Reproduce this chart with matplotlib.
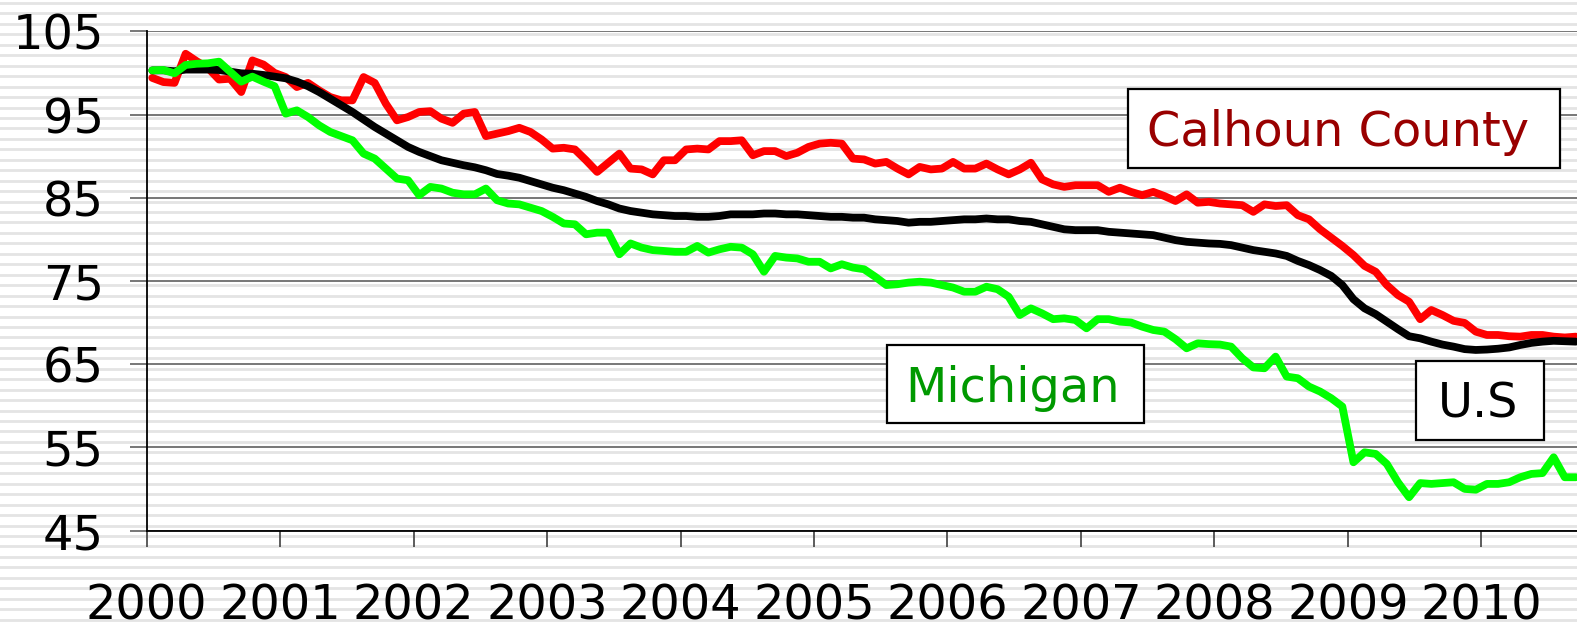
import matplotlib
matplotlib.use("Agg")
import matplotlib.pyplot as plt
from matplotlib.patches import Rectangle
import numpy as np

# monthly index values, Jan 2000 = first point
calhoun = [99.4, 98.9, 98.8, 102.3, 101.4, 100.6, 99.2, 99.3, 97.7, 101.5, 101.0, 100.0,
           99.5, 98.3, 98.8, 97.9, 97.1, 96.7, 96.7, 99.5, 98.8, 96.3, 94.3, 94.7,
           95.3, 95.4, 94.5, 94.0, 95.1, 95.3, 92.4, 92.7, 93.0,
           93.4, 92.9, 92.0, 90.9, 91.0, 90.8, 89.5, 88.1, 89.2, 90.3, 88.5, 88.4,
           87.8, 89.5, 89.5, 90.8, 90.9, 90.8, 91.8, 91.8, 91.9, 90.1, 90.6, 90.6,
           90.0, 90.4, 91.1, 91.5, 91.6, 91.5, 89.7, 89.6,
           89.1, 89.3, 88.5, 87.8, 88.7, 88.4, 88.5, 89.3, 88.5, 88.5, 89.1, 88.4,
           87.8, 88.4, 89.2, 87.2, 86.6, 86.3, 86.5, 86.5, 86.5, 85.7, 86.2, 85.7,
           85.3, 85.7, 85.2, 84.6, 85.4, 84.4, 84.5, 84.3,
           84.2, 84.1, 83.3, 84.2, 84.0, 84.1, 82.9, 82.4, 81.2, 80.2, 79.2, 78.1,
           76.8, 76.1, 74.5, 73.3, 72.5, 70.4, 71.5, 70.9, 70.2, 69.95, 68.9, 68.5,
           68.5, 68.35, 68.3, 68.5, 68.5, 68.3, 68.2, 68.3]

us = [100.3, 100.3, 100.2, 100.4, 100.4, 100.4, 100.35, 100.15, 99.95, 99.9, 99.75, 99.55,
      99.35, 98.95, 98.4, 97.7, 96.9, 96.1, 95.3, 94.4, 93.5, 92.7, 91.9, 91.1,
      90.5, 90.0, 89.5, 89.2, 88.9, 88.65, 88.3, 87.85, 87.65,
      87.4, 87.0, 86.6, 86.2, 85.9, 85.5, 85.1, 84.6, 84.2, 83.7, 83.4, 83.2,
      83.0, 82.9, 82.8, 82.8, 82.7, 82.7, 82.8, 83.0, 83.0, 83.0, 83.1, 83.1,
      83.0, 83.0, 82.9, 82.8, 82.7, 82.7, 82.6, 82.6,
      82.4, 82.3, 82.2, 82.0, 82.1, 82.1, 82.2, 82.3, 82.4, 82.4, 82.5, 82.4,
      82.4, 82.2, 82.1, 81.8, 81.5, 81.2, 81.1, 81.1, 81.1, 80.9, 80.8, 80.7,
      80.6, 80.5, 80.2, 79.9, 79.7, 79.6, 79.5, 79.45,
      79.3, 79.0, 78.7, 78.5, 78.3, 78.0, 77.4, 76.9, 76.3, 75.6, 74.5, 72.8,
      71.7, 71.0, 70.1, 69.2, 68.35, 68.1, 67.7, 67.35, 67.1, 66.8, 66.7, 66.75,
      66.85, 67.0, 67.3, 67.55, 67.7, 67.8, 67.75, 67.7]

michigan = [100.3, 100.35, 99.95, 100.95, 101.1, 101.15, 101.35, 100.15, 98.95, 99.55, 98.95, 98.4,
            95.1, 95.5, 94.7, 93.7, 92.9, 92.4, 91.9, 90.3, 89.7, 88.5, 87.3, 87.1,
            85.3, 86.3, 86.1, 85.6, 85.4, 85.4, 86.1, 84.7, 84.3,
            84.2, 83.8, 83.4, 82.7, 81.9, 81.8, 80.6, 80.8, 80.8, 78.2, 79.5, 79.0,
            78.7, 78.6, 78.5, 78.5, 79.2, 78.4, 78.8, 79.1, 79.0, 78.2, 76.1, 78.0,
            77.8, 77.7, 77.3, 77.3, 76.5, 77.0, 76.6, 76.4,
            75.5, 74.5, 74.6, 74.8, 74.9, 74.8, 74.5, 74.2, 73.7, 73.7, 74.3, 74.0,
            73.1, 70.9, 71.7, 71.1, 70.4, 70.5, 70.3, 69.3, 70.4, 70.4, 70.1, 70.0,
            69.5, 69.1, 68.9, 68.0, 66.9, 67.5, 67.4, 67.35,
            67.1, 65.7, 64.6, 64.5, 65.9, 63.5, 63.3, 62.3, 61.7, 60.9, 59.9, 53.2,
            54.4, 54.2, 53.0, 50.8, 49.0, 50.7, 50.6, 50.7, 50.8, 50.0, 49.9, 50.6,
            50.6, 50.8, 51.4, 51.8, 51.9, 53.8, 51.4, 51.4]

years = list(range(2000, 2011))
y_ticks = [45, 55, 65, 75, 85, 95, 105]

W, H = 1577, 628
fig = plt.figure(figsize=(W / 100, H / 100), dpi=100)
fig.patch.set_facecolor("white")

# striped background behind everything
bg = fig.add_axes([0, 0, 1, 1], zorder=-10)
bg.set_xlim(0, W)
bg.set_ylim(H, 0)
bg.axis("off")
for yy in np.arange(3.0, H, 10.45):
    bg.axhline(yy, color="#e4e4e4", lw=2.0)

left = 146.7 / W
bottom = (H - 530.5) / H
top = (H - 31.3) / H
ax = fig.add_axes([left, bottom, 1 - left, top - bottom])
ax.set_facecolor("none")

def xs(vals):
    return 2000 + (np.arange(len(vals)) + 0.5) / 12

lw = 5.6
ax.plot(xs(calhoun), calhoun, color="#ff0000", lw=lw, solid_joinstyle="round", solid_capstyle="round", zorder=3)
ax.plot(xs(us), us, color="#000000", lw=lw, solid_joinstyle="round", solid_capstyle="round", zorder=4)
ax.plot(xs(michigan), michigan, color="#00ff00", lw=lw, solid_joinstyle="round", solid_capstyle="round", zorder=5)

ax.set_xlim(2000, 2000 + 128.6 / 12)
ax.set_ylim(45, 105)

ax.set_yticks(y_ticks)
ax.set_xticks(years)
ax.set_xticklabels([str(y) for y in years])
ax.grid(axis="y", color="#606060", lw=1.2)
ax.set_axisbelow(True)

for s in ["top", "right"]:
    ax.spines[s].set_visible(False)
ax.spines["left"].set_color("black")
ax.spines["bottom"].set_color("black")
ax.spines["left"].set_linewidth(1.3)
ax.spines["bottom"].set_linewidth(1.3)

ax.tick_params(axis="y", direction="out", length=12, width=1.2, color="#606060",
               labelsize=34.5, pad=19)
ax.tick_params(axis="x", direction="out", length=11.5, width=1.2, color="#404040",
               labelsize=34.5, pad=26)

# series label boxes (pixel coords from the top-left)
labels = [
    ("Calhoun County", "#990000", (1128, 89, 1560, 168), 1338.5, 146),
    ("Michigan", "#009900", (887, 345, 1144, 423), 1013, 402),
    ("U.S", "#000000", (1416, 361, 1544, 440), 1478, 418),
]
for txt, col, (x0, y0, x1, y1), cx, base in labels:
    fig.add_artist(Rectangle((x0 / W, 1 - y1 / H), (x1 - x0) / W, (y1 - y0) / H,
                             transform=fig.transFigure, facecolor="white",
                             edgecolor="black", lw=1.6, zorder=10))
    fig.text(cx / W, 1 - base / H, txt, color=col, fontsize=34.5,
             ha="center", va="baseline", zorder=11)

fig.savefig("out.png", dpi=100)
